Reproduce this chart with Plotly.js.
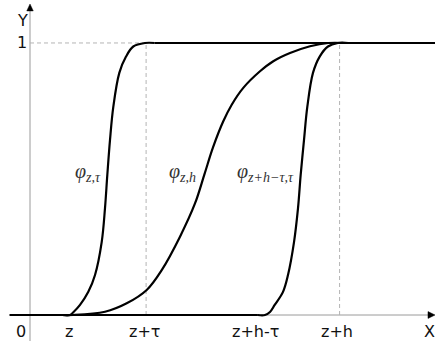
<!DOCTYPE html>
<html>
<head>
<meta charset="utf-8">
<script src="https://cdn.plot.ly/plotly-3.0.1.min.js"></script>
<style>html,body{margin:0;padding:0;background:#fff;}#chart{width:435px;height:341px;}</style>
</head>
<body>
<div id="chart"></div>
<script>
// Curve samples (x in units where z = 1, y in [0,1])
// Transition parts (drawn as splines); flat parts below are straight runs.
const phiZTauX = [0.75, 0.93, 1.007, 1.163, 1.356, 1.512, 1.667, 1.744, 1.798, 1.860, 1.937, 2.077, 2.233, 2.402, 2.674, 2.9];
const phiZTauY = [0, 0, 0.010, 0.037, 0.085, 0.147, 0.268, 0.393, 0.515, 0.643, 0.765, 0.890, 0.950, 0.987, 1, 1];

const phiZHX = [0.75, 1.0, 1.744, 2.249, 2.714, 3.063, 3.488, 3.837, 4.058, 4.256, 4.495, 4.691, 4.960, 5.349, 5.658, 6.047, 6.512, 6.937, 7.3];
const phiZHY = [0, 0, 0.012, 0.043, 0.092, 0.165, 0.288, 0.410, 0.518, 0.616, 0.712, 0.773, 0.835, 0.896, 0.933, 0.963, 0.988, 1, 1];

const phiShiftX = [5.3, 5.465, 5.581, 5.691, 5.884, 6.0, 6.14, 6.233, 6.295, 6.372, 6.449, 6.581, 6.737, 6.930, 7.16, 7.4];
const phiShiftY = [0, 0, 0.011, 0.037, 0.085, 0.147, 0.268, 0.393, 0.515, 0.643, 0.765, 0.890, 0.950, 0.987, 1, 1];

// Flat runs of the curves: y = 0 from the left edge, y = 1 to the right edge
const flatLeftX = -0.47;
const flatRightX = 9.6;

// Axis tick positions and labels
const tickVals = [0, 1, 2.7, 5.5, 7.2];
const tickText = ['0', 'z', 'z+\u03c4', 'z+h-\u03c4', 'z+h'];
const tickShift = [-9, -4, -2, -11, -3];

// Curve labels
const curveLabelText = ['\u03c6<sub>z,\u03c4</sub>', '\u03c6<sub>z,h</sub>', '\u03c6<sub>z+h\u2212\u03c4,\u03c4</sub>'];
const curveLabelX = [1.337, 3.535, 5.488];
const curveLabelY = [0.525, 0.525, 0.525];

const X_RANGE = [-0.698, 9.419];
const Y_RANGE = [-0.0956, 1.158];

const lineStyle = {color: '#000', width: 2.2};

function curveTraces(x, y) {
  const n = x.length;
  return [
    {x: [flatLeftX, x[0]], y: [y[0], y[0]], type: 'scatter', mode: 'lines',
      line: Object.assign({shape: 'linear'}, lineStyle), hoverinfo: 'skip', showlegend: false},
    {x: x, y: y, type: 'scatter', mode: 'lines',
      line: Object.assign({shape: 'spline', smoothing: 1}, lineStyle), hoverinfo: 'skip', showlegend: false},
    {x: [x[n - 1], flatRightX], y: [y[n - 1], y[n - 1]], type: 'scatter', mode: 'lines',
      line: Object.assign({shape: 'linear'}, lineStyle), hoverinfo: 'skip', showlegend: false}
  ];
}

const data = [].concat(
  curveTraces(phiZTauX, phiZTauY),
  curveTraces(phiZHX, phiZHY),
  curveTraces(phiShiftX, phiShiftY)
);

const grey = '#9a9a9a';
const dashGrey = '#b4b4b4';
const shapes = [
  // axes
  {type: 'line', xref: 'x', yref: 'paper', x0: 0, x1: 0, y0: 0, y1: 0.97, line: {color: grey, width: 1}, layer: 'below'},
  {type: 'line', xref: 'x', yref: 'y', x0: -0.465, x1: 9.3, y0: 0, y1: 0, line: {color: grey, width: 1}, layer: 'below'},
  // arrow heads
  {type: 'path', xref: 'x', yref: 'y', path: 'M -0.075 1.118 L 0.075 1.118 L 0 1.143 Z', fillcolor: '#000', line: {color: '#000', width: 0.5}},
  {type: 'path', xref: 'x', yref: 'y', path: 'M 9.256 -0.0125 L 9.256 0.0125 L 9.419 0 Z', fillcolor: '#000', line: {color: '#000', width: 0.5}},
  // dashed guides
  {type: 'line', xref: 'x', yref: 'y', x0: 0, x1: tickVals[2], y0: 1, y1: 1, line: {color: dashGrey, width: 1, dash: '4px,3px'}, layer: 'below'},
  {type: 'line', xref: 'x', yref: 'y', x0: tickVals[2], x1: tickVals[2], y0: 0, y1: 1, line: {color: dashGrey, width: 1, dash: '4px,3px'}, layer: 'below'},
  {type: 'line', xref: 'x', yref: 'y', x0: tickVals[4], x1: tickVals[4], y0: 0, y1: 1, line: {color: dashGrey, width: 1, dash: '4px,3px'}, layer: 'below'}
];

const axisFont = {family: 'DejaVu Sans', size: 16, color: '#111'};
const annotations = [];
tickVals.forEach((v, i) => {
  annotations.push({x: v, y: 0, xref: 'x', yref: 'y', text: tickText[i], showarrow: false,
    xanchor: 'center', yanchor: 'middle', xshift: tickShift[i], yshift: -16, font: axisFont});
});
annotations.push({x: 9.3, y: 0, xref: 'x', yref: 'y', text: 'X', showarrow: false,
  xanchor: 'center', yanchor: 'middle', yshift: -16, font: axisFont});
annotations.push({x: 0, y: 1, xref: 'x', yref: 'y', text: '1', showarrow: false,
  xanchor: 'center', yanchor: 'middle', xshift: -8, font: axisFont});
annotations.push({x: 0, y: 1, xref: 'x', yref: 'y', text: 'Y', showarrow: false,
  xanchor: 'center', yanchor: 'middle', xshift: -8, yshift: 22, font: axisFont});
curveLabelText.forEach((t, i) => {
  annotations.push({x: curveLabelX[i], y: curveLabelY[i], xref: 'x', yref: 'y', text: '<i>' + t + '</i>',
    showarrow: false, xanchor: 'center', yanchor: 'middle',
    font: {family: 'Liberation Serif', size: 20, color: '#333'}});
});

const layout = {
  width: 435, height: 341,
  margin: {l: 0, r: 0, t: 0, b: 0, pad: 0},
  paper_bgcolor: '#fff', plot_bgcolor: '#fff',
  xaxis: {range: X_RANGE, visible: false, fixedrange: true},
  yaxis: {range: Y_RANGE, visible: false, fixedrange: true},
  shapes: shapes,
  annotations: annotations,
  showlegend: false,
  hovermode: false
};

Plotly.newPlot('chart', data, layout, {staticPlot: true, displayModeBar: false});
</script>
</body>
</html>
